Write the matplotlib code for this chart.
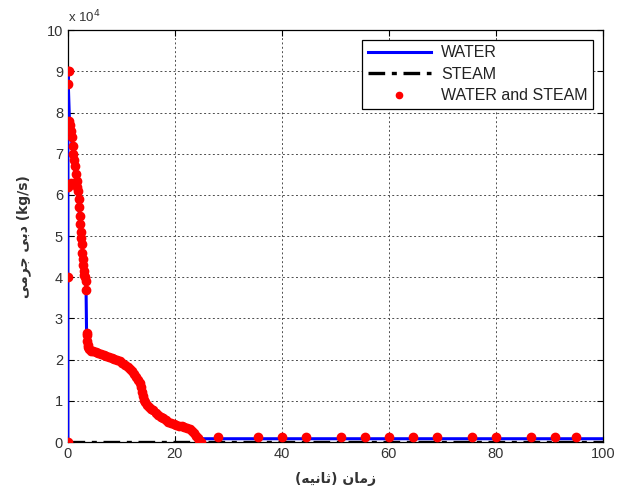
import matplotlib.pyplot as plt

# tempo (s) e vazão (x1e4 kg/s)
t_water = [0, 0, 0.3, 0.8, 1.3, 1.8, 2.3, 2.8, 3.3, 3.4, 3.5, 4.0, 4.7, 6.0, 8.0,
           9.0, 10.0, 11.6, 12.5, 13.5, 14.4, 15.9, 17.8, 19.6, 21.5, 22.8, 24.1,
           24.8, 25.2, 100]
q_water = [0, 9.0, 7.8, 7.2, 6.6, 6.1, 5.3, 4.6, 3.9, 3.7, 2.6, 2.35, 2.2, 2.15, 2.05,
           2.0, 1.95, 1.78, 1.6, 1.43, 1.0, 0.77, 0.58, 0.44, 0.37, 0.29, 0.1,
           0.0, 0.08, 0.08]

t_steam = [0, 25, 100]
q_steam = [0, 0, 0]

# pontos "WATER and STEAM"
t_mix = [0, 0, 0, 0.05, 0.05, 0.2, 0.3, 0.45, 0.6, 0.75, 0.9, 1.05, 1.2, 1.35, 1.5,
         1.65, 1.8, 0.3, 0.6, 1.9, 2.0, 2.1, 2.2, 2.3, 2.4, 2.5, 2.6, 2.7, 2.8, 2.9,
         3.0, 3.1, 3.2, 3.3, 3.4, 3.5, 3.5, 3.6, 3.7, 3.8, 4.0, 4.3, 4.7, 5.2, 5.7,
         6.2, 6.7, 7.2, 7.7, 8.2, 8.7, 9.2, 9.7, 10.2, 10.7, 11.2, 11.6, 12.0, 12.4,
         12.8, 13.1, 13.4, 13.7, 13.9, 14.1, 14.3, 14.5, 14.8, 15.1, 15.5, 15.9,
         16.4, 16.9, 17.4, 17.8, 18.3, 18.8, 19.3, 19.8, 20.3, 20.8, 21.3, 21.8,
         22.3, 22.8, 23.2, 23.6, 24.0, 24.3, 24.6, 24.8,
         28, 35.5, 40, 44.5, 51, 55.5, 60, 64.5, 69, 75.5, 80, 86.5, 91, 95]
q_mix = [0, 4.0, 6.2, 8.7, 9.0, 9.0, 7.8, 7.7, 7.55, 7.4, 7.2, 7.0, 6.85, 6.7, 6.5,
         6.35, 6.2, 6.25, 6.3, 6.1, 5.9, 5.7, 5.5, 5.3, 5.1, 4.95, 4.8, 4.6, 4.45, 4.3,
         4.15, 4.05, 4.0, 3.9, 3.7, 2.65, 2.45, 2.6, 2.35, 2.3, 2.25, 2.22, 2.2, 2.18,
         2.16, 2.14, 2.12, 2.1, 2.07, 2.04, 2.01, 1.99, 1.96, 1.93, 1.88, 1.82, 1.78,
         1.72, 1.65, 1.58, 1.5, 1.43, 1.33, 1.22, 1.12, 1.03, 0.96, 0.9, 0.85, 0.8,
         0.77, 0.71, 0.66, 0.61, 0.58, 0.53, 0.49, 0.46, 0.43, 0.41, 0.39, 0.38, 0.37,
         0.35, 0.32, 0.28, 0.22, 0.15, 0.09, 0.04, 0.0,
         0.12, 0.12, 0.12, 0.12, 0.12, 0.12, 0.12, 0.12, 0.12, 0.12, 0.12, 0.12, 0.12, 0.12]

x_ticks = [0, 20, 40, 60, 80, 100]
y_ticks = list(range(0, 11))

# rótulos em persa (formas de apresentação, ordem visual)
x_label = '(\ufeea\ufef4\ufee7\ufe8e\ufe9b) \ufee5\ufe8e\ufee3\ufeaf'
y_label = '\ufef0\ufee3\ufeae\ufe9f \ufef0\ufe91\ufea9 (kg/s)'

plt.rcParams['font.family'] = ['Liberation Sans', 'DejaVu Sans']

fig = plt.figure(figsize=(6.17, 4.95), dpi=100)
ax = fig.add_axes([0.110, 0.107, 0.867, 0.832])

ax.plot(t_water, q_water, color='#0000ff', lw=2.2, label='WATER', zorder=3)
ax.plot(t_steam, q_steam, color='black', lw=2.4, linestyle=(0, (5, 2, 1.5, 2)),
        label='STEAM', zorder=4)
ax.plot(t_mix, q_mix, linestyle='none', marker='o', ms=6, color='#ff0000',
        mec='#ff0000', label='WATER and STEAM', zorder=5)

ax.set_xlim(0, 100)
ax.set_ylim(0, 10)
ax.set_xticks(x_ticks)
ax.set_yticks(y_ticks)
ax.tick_params(direction='in', top=True, right=True, labelsize=10.5, length=4,
               colors='black', labelcolor='#333333')
ax.grid(True, color='0.3', linestyle=(0, (2, 2.5)), lw=0.7)
for s in ax.spines.values():
    s.set_linewidth(0.9)

ax.text(0.0, 1.012, 'x 10$^4$', transform=ax.transAxes, fontsize=9.5,
        color='#333333', ha='left', va='bottom')

ax.set_xlabel(x_label, fontsize=10, family=['DejaVu Sans'], labelpad=8,
              fontweight='bold', color='#333333')
ax.set_ylabel(y_label, fontsize=10, family=['DejaVu Sans'], labelpad=11,
              fontweight='bold', color='#333333')

leg = ax.legend(loc='upper right', fontsize=11.5, handlelength=4.0,
                fancybox=False, framealpha=1, edgecolor='black',
                borderaxespad=0.6, labelspacing=0.4, borderpad=0.35,
                handletextpad=0.6, markerscale=0.75)
leg.get_frame().set_linewidth(0.9)
for txt in leg.get_texts():
    txt.set_color('#222222')

fig.savefig('out.png', dpi=100)
